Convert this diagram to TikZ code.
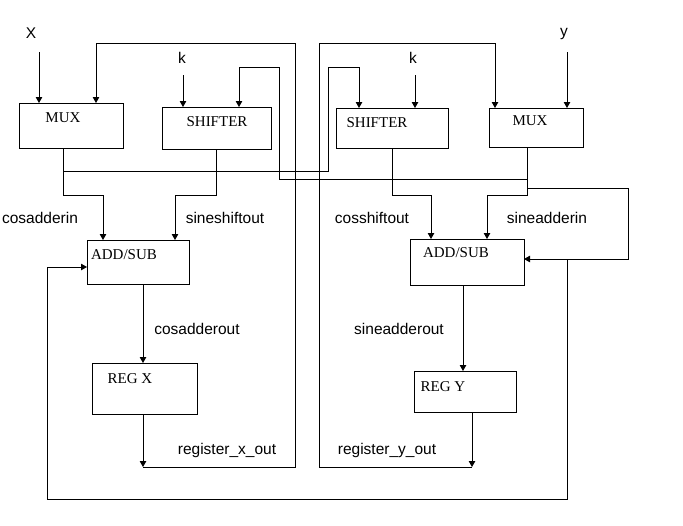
\documentclass[tikz,border=0pt]{standalone}
\usepackage{fontspec}
\setmainfont{Liberation Serif}
\newfontfamily\labelfont{Liberation Sans}
\usetikzlibrary{arrows.meta}

\begin{document}
\begin{tikzpicture}[x=1pt,y=-1pt,line width=1pt,
  blk/.style={draw,inner sep=0pt,outer sep=0pt},
  wire/.style={-{Triangle[width=6.5pt,length=6pt]}},
  boxtxt/.style={inner sep=0pt,font=\fontsize{15}{18}\selectfont},
  sig/.style={inner sep=0pt,font=\labelfont\fontsize{15.5}{18}\selectfont}]
  \useasboundingbox (0,0) rectangle (683,525);

  % blocks
  \node[blk,minimum width=104pt,minimum height=45pt] (muxX) at (71,125.5) {};
  \node[blk,minimum width=109pt,minimum height=42pt] (shiftL) at (216.5,128) {};
  \node[blk,minimum width=112pt,minimum height=40pt] (shiftR) at (392,128) {};
  \node[blk,minimum width=94pt,minimum height=39pt] (muxY) at (536,127.5) {};
  \node[blk,minimum width=102pt,minimum height=44pt] (addL) at (138,262) {};
  \node[blk,minimum width=114pt,minimum height=46pt] (addR) at (467,262) {};
  \node[blk,minimum width=105pt,minimum height=51pt] (regX) at (144.5,388.5) {};
  \node[blk,minimum width=102pt,minimum height=41pt] (regY) at (465,391.5) {};

  \node[boxtxt] (muxXt) at (63,118) {MUX};
  \node[boxtxt] (shiftLt) at (217,122) {SHIFTER};
  \node[boxtxt] (shiftRt) at (377,123) {SHIFTER};
  \node[boxtxt] (muxYt) at (530,121) {MUX};
  \node[boxtxt] (addLt) at (124,255) {ADD/SUB};
  \node[boxtxt] (addRt) at (456,253) {ADD/SUB};
  \node[boxtxt] (regXt) at (130,379) {REG X};
  \node[boxtxt] (regYt) at (443,387) {REG Y};

  % inputs
  \node[sig] (xlbl) at (31,33) {X};
  \node[sig] (klbl1) at (182,58) {k};
  \node[sig] (klbl2) at (413,58) {k};
  \node[sig] (ylbl) at (564,34) {y};

  % signal names
  \node[sig] (cosin) at (40,218) {cosadderin};
  \node[sig] (sinshout) at (225,218) {sineshiftout};
  \node[sig] (cosshout) at (372,218) {cosshiftout};
  \node[sig] (sinin) at (547,218) {sineadderin};
  \node[sig] (cosout) at (197,329) {cosadderout};
  \node[sig] (sinout) at (399,329) {sineadderout};
  \node[sig] (regxout) at (227,450) {register\_x\_out};
  \node[sig] (regyout) at (387,450) {register\_y\_out};

  \coordinate (xin) at (39,52);
  \coordinate (kin1) at (183,75);
  \coordinate (kin2) at (415,75);
  \coordinate (yin) at (567,52);
  \coordinate (tapX) at (63,171);
  \coordinate (tapY) at (527,179);
  \coordinate (tapY2) at (527,188);
  \coordinate (inA) at (103,195);
  \coordinate (inB) at (175,195);
  \coordinate (inC) at (431,195);
  \coordinate (inD) at (487,195);
  \coordinate (shXtop) at (239,67);
  \coordinate (shYtop) at (359,67);
  \coordinate (fbX) at (143,467);
  \coordinate (fbXtop) at (96,43);
  \coordinate (fbY) at (472,467);
  \coordinate (fbYtop) at (495,43);
  \coordinate (sumY) at (463,330);
  \coordinate (loopR) at (628,259);
  \coordinate (loopTap) at (567,259);
  \coordinate (loopL) at (47,267);

  \draw[wire] (xin) -- (xin |- muxX.north);
  \draw[wire] (kin1) -- (kin1 |- shiftL.north);
  \draw[wire] (kin2) -- (kin2 |- shiftR.north);
  \draw[wire] (yin) -- (yin |- muxY.north);

  % x path
  \draw[wire] (muxX.south -| tapX) -- (tapX |- inA) -- (inA) -- (inA |- addL.north);
  \draw[wire] (tapX) -- (328,171) -- (328,67) -- (shYtop) -- (shYtop |- shiftR.north);
  \draw[wire] (shiftL.south) -- (shiftL.south |- inB) -- (inB) -- (inB |- addL.north);
  \draw[wire] (addL.south -| fbX) -- (fbX |- regX.north);
  \draw[wire] (regX.south -| fbX) -- (fbX);
  \draw[wire] (fbX) -- (295,467) -- (295,43) -- (fbXtop) -- (fbXtop |- muxX.north);

  % y path
  \draw[wire] (muxY.south -| tapY) -- (tapY |- inD) -- (inD) -- (inD |- addR.north);
  \draw[wire] (tapY) -- (279,179) -- (279,67) -- (shXtop) -- (shXtop |- shiftL.north);
  \draw[wire] (shiftR.south) -- (shiftR.south |- inC) -- (inC) -- (inC |- addR.north);
  \draw[wire] (addR.south -| sumY) -- (sumY |- regY.north);
  \draw[wire] (regY.south -| fbY) -- (fbY);
  \draw[wire] (fbY) -- (319,467) -- (319,43) -- (fbYtop) -- (fbYtop |- muxY.north);

  % loops
  \draw[wire] (tapY2) -- (628,188) -- (loopR) -- (loopR -| addR.east);
  \draw[wire] (loopTap) -- (567,499) -- (47,499) -- (loopL) -- (loopL -| addL.west);
\end{tikzpicture}
\end{document}
